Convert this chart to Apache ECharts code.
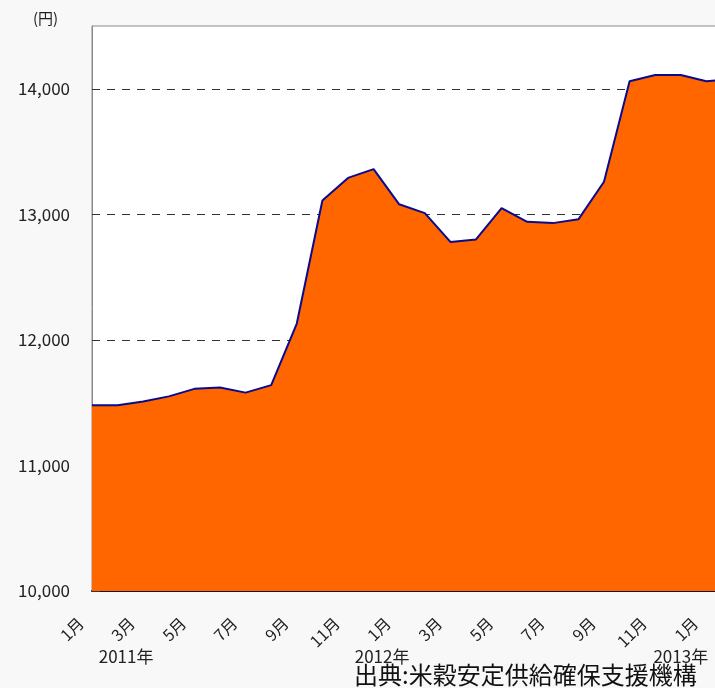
<!DOCTYPE html>
<html>
<head>
<meta charset="utf-8">
<script src="https://cdn.jsdelivr.net/npm/echarts@6/dist/echarts.min.js"></script>
<style>
html,body{margin:0;padding:0;background:#f8f8f8;}
#main{width:715px;height:688px;}
</style>
</head>
<body>
<div id="main"></div>
<script>
// 2011年1月 ～ 2013年2月
var months = ['1月','2月','3月','4月','5月','6月','7月','8月','9月','10月','11月','12月',
    '1月','2月','3月','4月','5月','6月','7月','8月','9月','10月','11月','12月',
    '1月','2月'];
var prices = [11480, 11480, 11510, 11550, 11610, 11620, 11580, 11640, 12130, 13110, 13290, 13360,
    13080, 13010, 12780, 12800, 13050, 12940, 12930, 12960, 13260, 14060, 14110, 14110,
    14060, 14080];
var yearNames = ['2011年', '2012年', '2013年'];
var yearAt = [1, 11, 23];
var yTicks = [10000, 11000, 12000, 13000, 14000];

var yearRow = [];
for (var i = 0; i < months.length; i++) {
    var k = yearAt.indexOf(i);
    yearRow.push(k >= 0 ? yearNames[k] : '');
}

var font = '"Noto Sans CJK JP", "Noto Sans", sans-serif';

var myChart = echarts.init(document.getElementById('main'));
var opt = {
    backgroundColor: '#f8f8f8',
    animation: false,
    textStyle: {fontFamily: font},
    grid: {
        left: 92, top: 26, right: -17, bottom: 97,
        show: true, backgroundColor: '#ffffff', borderColor: '#8a8a8a', borderWidth: 1,
        outerBoundsMode: 'none'
    },
    xAxis: [{
        type: 'category',
        data: months,
        boundaryGap: false,
        axisLine: {lineStyle: {color: '#14142e', width: 2}},
        axisTick: {inside: true, length: 5, interval: 0, lineStyle: {color: '#222'}},
        axisLabel: {interval: 1, rotate: 45, fontSize: 16, color: '#222', margin: 18,
            padding: [0, 16, 0, 0], fontFamily: font},
        splitLine: {show: false}
    }, {
        type: 'category',
        data: yearRow,
        boundaryGap: false,
        position: 'bottom',
        axisLine: {show: false},
        axisTick: {show: false},
        axisLabel: {
            interval: 0, fontSize: 17, color: '#222', margin: 57, fontFamily: font,
            formatter: function (v) {
                // 最後の年以外は少し右へ
                if (v && v != yearNames[yearNames.length - 1]) {
                    return '{p|' + v + '}';
                }
                return v;
            },
            rich: {p: {fontSize: 17, color: '#222', fontFamily: font, padding: [0, 0, 0, 17]}}
        },
        splitLine: {show: false}
    }],
    yAxis: {
        type: 'value',
        min: yTicks[0],
        max: 14500,
        interval: 1000,
        axisLine: {show: true, lineStyle: {color: '#8a8a8a', width: 1}},
        axisTick: {show: true, inside: true, length: 8, lineStyle: {color: '#333'}},
        axisLabel: {
            showMaxLabel: false, fontSize: 17, color: '#222', margin: 22, fontFamily: font,
            formatter: function (v) {
                return yTicks.indexOf(v) >= 0 ? echarts.format.addCommas(v) : '';
            }
        },
        splitLine: {show: true, showMaxLine: false, showMinLine: false,
            lineStyle: {color: '#333', type: [8, 7], width: 1}}
    },
    graphic: [{
        type: 'text', left: 33, top: 11,
        style: {text: '(円)', fontSize: 15, fill: '#222', fontFamily: font}
    }, {
        type: 'text', left: 354, top: 663,
        style: {text: '出典:米穀安定供給確保支援機構', fontSize: 24, fill: '#111', fontFamily: font}
    }],
    series: [{
        type: 'line',
        data: prices,
        symbol: 'none',
        lineStyle: {color: '#0a0a8c', width: 2},
        areaStyle: {color: '#ff6600', opacity: 1}
    }]
};
myChart.setOption(opt);
</script>
</body>
</html>
